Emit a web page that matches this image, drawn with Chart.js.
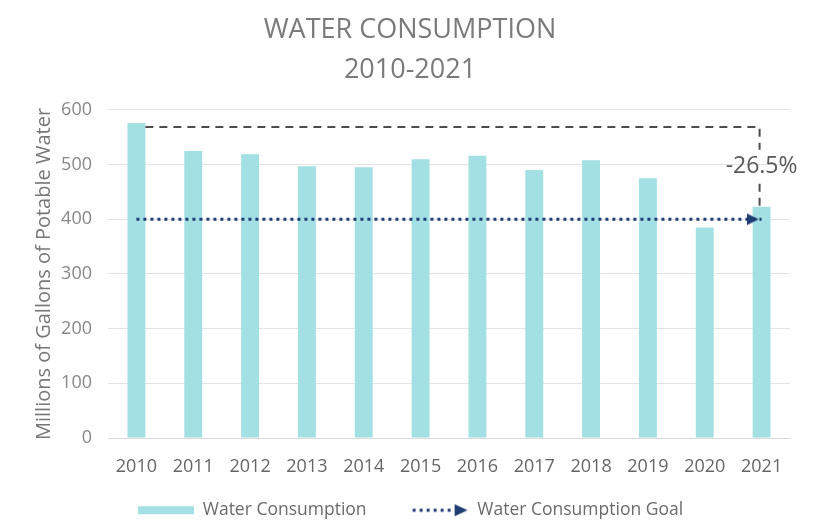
<!DOCTYPE html>
<html lang="en">
<head>
    <meta charset="UTF-8">
    <title>Water Consumption 2010-2021</title>
    <script src="https://cdn.jsdelivr.net/npm/chart.js"></script>
    <style>
        body { margin: 0; background: #fff; }
        #wrap { width: 824px; height: 521px; }
    </style>
</head>
<body>
    <div id="wrap"><canvas id="waterChart"></canvas></div>

    <script>
        // Data
        const years = ["2010", "2011", "2012", "2013", "2014", "2015", "2016", "2017", "2018", "2019", "2020", "2021"];
        const consumption = [576, 525, 519, 497, 495, 510, 516, 490, 508, 475, 385, 423];
        const goal = [400, 400, 400, 400, 400, 400, 400, 400, 400, 400, 400, 400];
        const changeLabel = "-26.5%";

        const FONT = "'Open Sans', sans-serif";
        const barColor = "#a2e0e4";
        const goalColor = "#1f3c73";

        // Legend swatches: SW px wide box, the mark sits in the right 56px
        const SW = 98;
        function barSwatch() {
            const c = document.createElement("canvas");
            c.width = SW; c.height = 10;
            const g = c.getContext("2d");
            g.fillStyle = barColor;
            g.fillRect(SW - 56, 1, 56, 8);
            return c;
        }
        function arrowSwatch() {
            const c = document.createElement("canvas");
            c.width = SW; c.height = 14;
            const g = c.getContext("2d");
            const x0 = SW - 56;
            g.strokeStyle = goalColor;
            g.lineWidth = 3;
            g.setLineDash([3, 4]);
            g.beginPath();
            g.moveTo(x0, 7);
            g.lineTo(x0 + 44, 7);
            g.stroke();
            g.fillStyle = goalColor;
            g.beginPath();
            g.moveTo(x0 + 42, 1);
            g.lineTo(x0 + 55, 7);
            g.lineTo(x0 + 42, 13);
            g.closePath();
            g.fill();
            return c;
        }
        // Arrow head for the last goal point (tip sits just left of the bar centre)
        function arrowHead() {
            const c = document.createElement("canvas");
            c.width = 30; c.height = 14;
            const g = c.getContext("2d");
            g.fillStyle = goalColor;
            g.beginPath();
            g.moveTo(0, 1);
            g.lineTo(12, 7);
            g.lineTo(0, 13);
            g.closePath();
            g.fill();
            return c;
        }

        // Dashed "-26.5%" bracket from the 2010 bar to the 2021 bar
        const changeBracket = {
            id: "changeBracket",
            afterDatasetsDraw(chart) {
                const bars = chart.getDatasetMeta(0).data;
                const first = bars[0], last = bars[bars.length - 1];
                const yTop = first.y + 4;
                const x0 = first.x + first.width / 2;
                const x1 = last.x - 2;
                const yEnd = last.y;
                const midY = (yTop + yEnd) / 2;
                const ctx = chart.ctx;
                ctx.save();
                ctx.strokeStyle = "#4d4d4d";
                ctx.lineWidth = 2;
                ctx.setLineDash([8, 6]);
                ctx.beginPath();
                ctx.moveTo(x0, yTop);
                ctx.lineTo(x1, yTop);
                ctx.lineTo(x1, midY - 17);
                ctx.moveTo(x1, midY + 17);
                ctx.lineTo(x1, yEnd);
                ctx.stroke();
                ctx.setLineDash([]);
                ctx.fillStyle = "#595959";
                ctx.font = "23px " + FONT;
                ctx.textAlign = "center";
                ctx.textBaseline = "middle";
                ctx.fillText(changeLabel, x1 + 2, midY);
                ctx.restore();
            }
        };

        const ctx = document.getElementById("waterChart").getContext("2d");
        new Chart(ctx, {
            type: "bar",
            data: {
                labels: years,
                datasets: [
                    {
                        label: "Water Consumption",
                        data: consumption,
                        backgroundColor: barColor,
                        barPercentage: 0.9,
                        categoryPercentage: 0.35,
                        order: 2
                    },
                    {
                        type: "line",
                        label: "Water Consumption Goal",
                        data: goal,
                        borderColor: goalColor,
                        backgroundColor: goalColor,
                        borderWidth: 3,
                        borderDash: [3, 4],
                        pointRadius: goal.map((v, i) => i === goal.length - 1 ? 7 : 0),
                        pointStyle: goal.map((v, i) => i === goal.length - 1 ? arrowHead() : "circle"),
                        order: 1
                    }
                ]
            },
            options: {
                responsive: true,
                maintainAspectRatio: false,
                animation: false,
                layout: { padding: { left: 30, right: 34, top: 6, bottom: -8 } },
                plugins: {
                    title: {
                        display: true,
                        text: ["WATER CONSUMPTION", "2010-2021"],
                        color: "#7a7a7a",
                        font: { family: FONT, size: 27, weight: "normal", lineHeight: 1.48 },
                        padding: { top: 4, bottom: 20 }
                    },
                    legend: {
                        position: "bottom",
                        labels: {
                            usePointStyle: true,
                            pointStyleWidth: SW,
                            padding: 4,
                            color: "#6b6b6b",
                            font: { family: FONT, size: 17.5 },
                            generateLabels: () => [
                                { text: "Water Consumption", pointStyle: barSwatch(), fillStyle: barColor, strokeStyle: barColor, lineWidth: 0, datasetIndex: 0, fontColor: "#6b6b6b" },
                                { text: "Water Consumption Goal\u00a0\u00a0\u00a0\u00a0\u00a0\u00a0\u00a0\u00a0\u00a0", pointStyle: arrowSwatch(), fillStyle: goalColor, strokeStyle: goalColor, lineWidth: 0, datasetIndex: 1, fontColor: "#6b6b6b" }
                            ]
                        }
                    },
                    tooltip: { enabled: false }
                },
                scales: {
                    x: {
                        grid: { display: false, drawTicks: false },
                        border: { color: "#d9d9d9", width: 1 },
                        ticks: { color: "#666", font: { family: FONT, size: 18 }, padding: 18, maxRotation: 0 },
                        afterFit(scale) { scale.height = 59.5; }
                    },
                    y: {
                        min: 0,
                        max: 600,
                        ticks: { stepSize: 100, color: "#888", font: { family: FONT, size: 18 }, padding: 16 },
                        grid: { color: "#e3e3e3", drawTicks: false },
                        border: { display: false },
                        title: {
                            display: true,
                            text: "Millions of Gallons of Potable Water",
                            color: "#777",
                            font: { family: FONT, size: 20 },
                            padding: { top: 2, bottom: 0 }
                        },
                        afterFit(scale) { scale.width = 78; }
                    }
                }
            },
            plugins: [changeBracket]
        });
    </script>
</body>
</html>
